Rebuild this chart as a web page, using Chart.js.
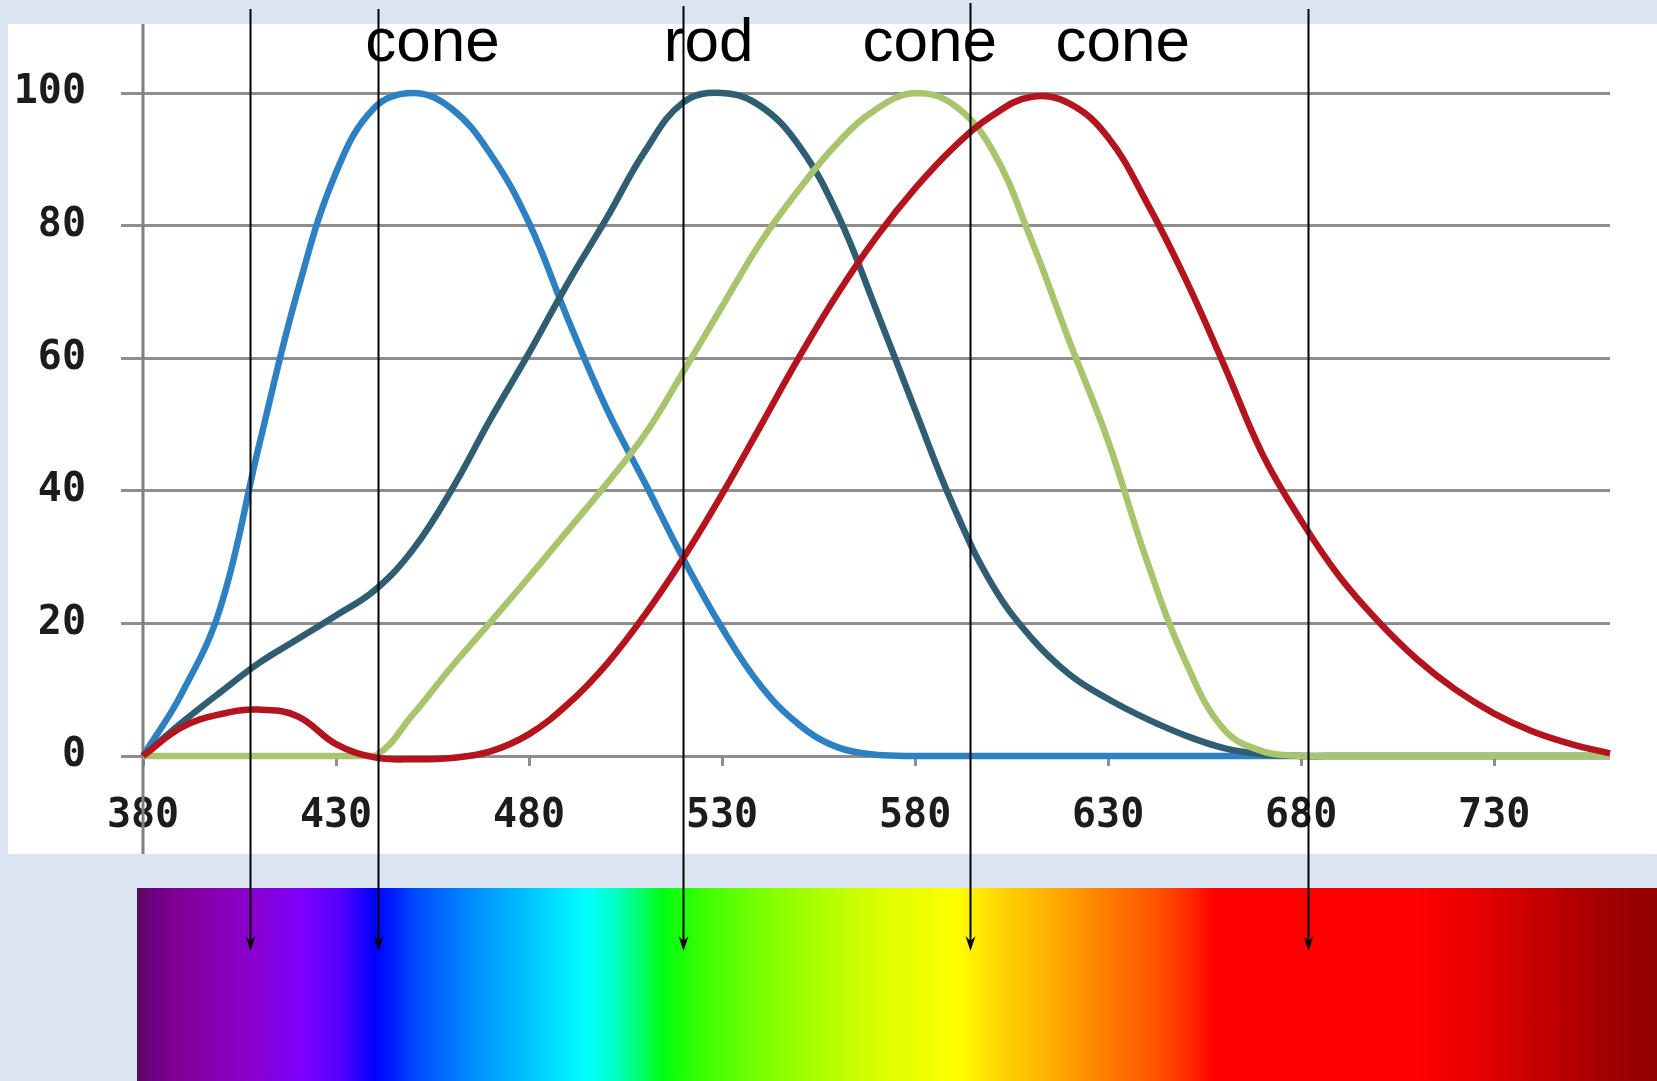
<!DOCTYPE html>
<html>
<head>
<meta charset="utf-8">
<script src="https://cdn.jsdelivr.net/npm/chart.js@4.4.1/dist/chart.umd.min.js"></script>
<style>
  html, body { margin: 0; padding: 0; }
  body { width: 1657px; height: 1081px; background: #dbe5f1; position: relative; overflow: hidden; }
  #panel { position: absolute; left: 8px; top: 24px; width: 1649px; height: 830px; background: #fff; }
  #spectrum {
    position: absolute; left: 137px; top: 888px; width: 1520px; height: 193px;
    background: linear-gradient(to right,
      #5a0a5e 0%, #6c0080 1%, #7e0092 2.5%, #8a00cc 7.5%, #7c00ff 11%, #5000ff 13.5%,
      #0000ff 15.6%, #0018ff 16.6%, #0048ff 18.2%, #0088ff 21.8%, #00c4ff 25.8%,
      #00ffff 29.6%, #00ffc0 31.6%, #00ff60 33.3%, #00ff10 34.6%, #40ff00 37.5%,
      #80ff00 41.5%, #b4ff00 45.5%, #dcff00 49%, #ffff00 54%, #ffd400 56.8%,
      #ffb000 60%, #ff8400 63.3%, #ff5400 67%, #ff2400 69.5%, #ff0000 70.8%,
      #ff0000 84%, #e80000 88%, #c40000 92.5%, #a40000 96.5%, #920000 100%);
  }
  #chart { position: absolute; left: 0; top: 0; }
  .tag {
    position: absolute; top: 9px; width: 240px; text-align: center;
    font-family: "Liberation Sans", Arial, sans-serif; font-size: 62px; line-height: 62px; color: #000;
  }
</style>
</head>
<body>
<div id="panel"></div>
<div id="spectrum"></div>
<canvas id="chart" width="1657" height="1081"></canvas>
<script>
// wavelength (nm) and relative sensitivity (%)
const wavelengths = [380, 390, 400, 410, 420, 430, 440, 450, 460, 470, 480, 490, 500, 510, 520, 530, 540, 550, 560, 570,
  580, 590, 600, 610, 620, 630, 640, 650, 660, 670, 680, 690, 700, 710, 720, 730, 740, 750, 760];

const blueCone = [0, 9.4, 22.3, 46.7, 70, 88, 97.8, 100, 97.6, 90.8, 80.4, 66, 52.5, 41.2, 29.7, 19.3, 10.6, 4.7, 1.3, 0.2,
  0, 0, 0, 0, 0, 0, 0, 0, 0, 0, 0, 0, 0, 0, 0, 0, 0, 0, 0];
const rod = [0, 5, 9.6, 14, 17.6, 21.2, 25, 31.2, 40.2, 50.8, 60.8, 71.3, 81, 91.2, 98.6, 100, 98, 92, 81.6, 67.2,
  52.2, 37.6, 25.8, 17.9, 12.3, 8.6, 5.6, 3.1, 1.2, 0.3, 0, 0, 0, 0, 0, 0, 0, 0, 0];
const greenCone = [0, 0, 0, 0, 0, 0, 0, 6.3, 13.5, 20.2, 27, 34, 41, 48.5, 58, 67.8, 77.5, 85.5, 92.5, 97.6,
  100, 98.2, 91.4, 78, 62.5, 47.5, 29.5, 14.3, 4, 0.7, 0, 0, 0, 0, 0, 0, 0, 0, 0];
const redCone = [0, 4.3, 6.3, 7, 6, 1.8, -0.2, -0.5, -0.3, 0.7, 3.3, 7.8, 13.8, 21.3, 29.9, 39.5, 49.8, 60.2, 69.8, 78.3,
  85.6, 91.8, 96.6, 99.4, 98.4, 93.3, 83.5, 72, 59, 45.5, 35.5, 27, 20.3, 14.6, 10, 6.4, 3.7, 1.8, 0.4];

const xTicks = [380, 430, 480, 530, 580, 630, 680, 730];
const yTicks = [0, 20, 40, 60, 80, 100];

// annotations: words along the top, and arrows pointing down into the spectrum
const tagWords = ['cone', 'rod', 'cone', 'cone'];
const tagAt = [455, 526.5, 583.8, 633.8];
const arrowAt = [407.6, 440.8, 519.8, 594.2, 681.8];
const arrowTop = [9, 9, 6, 3, 9];

const pts = vals => wavelengths.map((w, i) => ({ x: w, y: vals[i] }));

const tickFont = { family: 'DejaVu Sans Mono', size: 40, weight: 'bold' };
const gridGrey = '#8e8e8e';

const decor = {
  id: 'decor',
  beforeDatasetsDraw(chart) {
    // the value axis runs the whole height of the white panel
    const ctx = chart.ctx;
    const x = chart.chartArea.left;
    ctx.save();
    ctx.strokeStyle = '#808080';
    ctx.lineWidth = 3;
    ctx.beginPath();
    ctx.moveTo(x, 24);
    ctx.lineTo(x, 854);
    ctx.stroke();
    ctx.restore();
  },
  afterDraw(chart) {
    const ctx = chart.ctx;
    const xs = chart.scales.x;
    const tip = 951;
    ctx.save();
    ctx.strokeStyle = '#000';
    ctx.fillStyle = '#000';
    ctx.lineWidth = 2;
    arrowAt.forEach((w, i) => {
      const x = Math.round(xs.getPixelForValue(w)) + 0.5;
      ctx.beginPath();
      ctx.moveTo(x, arrowTop[i]);
      ctx.lineTo(x, tip - 6);
      ctx.stroke();
      ctx.beginPath();
      ctx.moveTo(x, tip);
      ctx.lineTo(x - 5, tip - 15);
      ctx.lineTo(x, tip - 10);
      ctx.lineTo(x + 5, tip - 15);
      ctx.closePath();
      ctx.fill();
    });
    ctx.restore();
  }
};

const chart = new Chart(document.getElementById('chart'), {
  type: 'line',
  data: {
    datasets: [
      { data: pts(redCone), borderColor: '#b3141d' },
      { data: pts(greenCone), borderColor: '#a8c56e', capBezierPoints: true },
      { data: pts(rod), borderColor: '#2f5d71' },
      { data: pts(blueCone), borderColor: '#2d80c2', capBezierPoints: true }
    ]
  },
  options: {
    responsive: false,
    animation: false,
    devicePixelRatio: 1,
    clip: 8,
    layout: { padding: { top: 93, right: 47, left: 0, bottom: 0 } },
    plugins: { legend: { display: false }, tooltip: { enabled: false } },
    elements: {
      point: { radius: 0 },
      line: { borderWidth: 6.5, tension: 0.4, capBezierPoints: false, fill: false }
    },
    scales: {
      x: {
        type: 'linear',
        min: 380,
        max: 760,
        afterBuildTicks: s => { s.ticks = xTicks.map(v => ({ value: v })); },
        afterFit: s => { s.height = 325; },
        grid: { drawOnChartArea: false, drawTicks: true, tickLength: 10, color: gridGrey, lineWidth: 3 },
        border: { display: false },
        ticks: { padding: 27, font: tickFont, color: '#1c1c1c', maxRotation: 0, autoSkip: false }
      },
      y: {
        min: 0,
        max: 100,
        afterBuildTicks: s => { s.ticks = yTicks.map(v => ({ value: v })); },
        afterFit: s => { s.width = 143; },
        grid: { color: gridGrey, lineWidth: 3, tickLength: 22 },
        border: { display: false },
        ticks: { padding: 35, font: tickFont, color: '#1c1c1c' }
      }
    }
  },
  plugins: [decor]
});

// place the words above the curves
tagWords.forEach((word, i) => {
  const el = document.createElement('div');
  el.className = 'tag';
  el.textContent = word;
  el.style.left = (chart.scales.x.getPixelForValue(tagAt[i]) - 120) + 'px';
  document.body.appendChild(el);
});
</script>
</body>
</html>
